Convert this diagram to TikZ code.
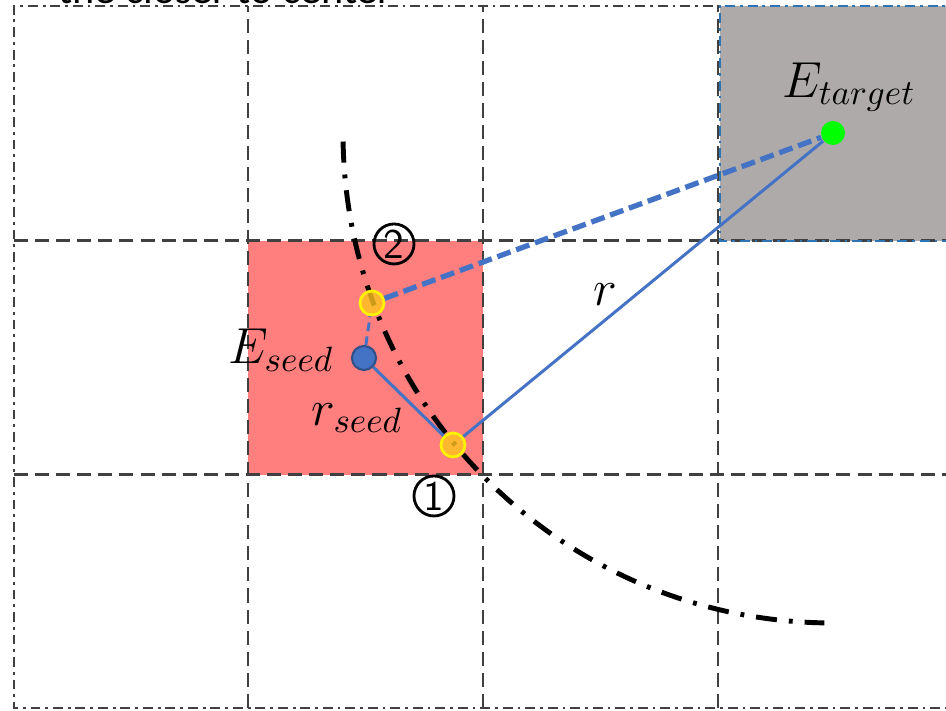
\documentclass[tikz,border=0pt]{standalone}
\usepackage{fontspec}
\newfontfamily\capfont{Carlito}
\usetikzlibrary{positioning}
\definecolor{rejilla}{RGB}{64,64,64}
\definecolor{semilla}{RGB}{255,127,127}
\definecolor{objetivo}{RGB}{174,170,170}
\definecolor{enlace}{RGB}{68,114,196}
\definecolor{borde}{RGB}{46,117,182}
\definecolor{punto}{RGB}{255,196,30}
\tikzset{
  cellline/.style={rejilla, line width=0.85pt, dash pattern=on 4pt off 2pt},
  outerline/.style={rejilla, line width=0.8pt, dash pattern=on 2.8pt off 1.4pt on 0.8pt off 1.4pt},
  targetedge/.style={borde, line width=0.8pt, dash pattern=on 2.8pt off 1.4pt on 0.8pt off 1.4pt},
  arcline/.style={black, line width=1.4pt, dash pattern=on 6pt off 3.4pt on 1.1pt off 3.4pt},
  seedpt/.style={circle, minimum size=0.24cm, inner sep=0pt, fill=enlace, draw=enlace!70!black, line width=0.6pt},
  crosspt/.style={circle, minimum size=0.24cm, inner sep=0pt, fill=punto, fill opacity=0.8, draw=yellow, line width=0.8pt},
  targetpt/.style={circle, minimum size=0.24cm, inner sep=0pt, fill=green},
  solidlink/.style={enlace, line width=0.85pt},
  thinlink/.style={enlace, line width=0.85pt, dash pattern=on 2.5pt off 1.5pt},
  thicklink/.style={enlace, line width=1.5pt, dash pattern=on 4pt off 1.7pt},
  lbl/.style={inner sep=0pt, font=\fontsize{14.5}{17}\selectfont},
  num/.style={circle, draw, line width=0.8pt, minimum size=0.4cm, inner sep=0pt,
              font=\fontsize{12}{14}\sffamily}
}
\begin{document}
\begin{tikzpicture}
  \useasboundingbox (0,0) rectangle (9.46,7.11);
  \clip (0,0) rectangle (9.46,7.11);
  % cells
  \fill[semilla] (2.48,2.36) rectangle (4.83,4.70);
  \fill[objetivo] (7.20,4.70) rectangle (9.60,7.05);
  \foreach \x in {2.48,4.83,7.18}
    \draw[cellline] (\x,0.03) -- (\x,7.05);
  \foreach \y in {2.36,4.70}
    \draw[cellline] (0.14,\y) -- (9.60,\y);
  \draw[outerline] (9.60,7.05) -- (0.14,7.05) -- (0.14,0.03) -- (9.60,0.03);
  \draw[targetedge] (9.60,7.05) -- (7.20,7.05) -- (7.20,4.70) -- (9.60,4.70);
  \node[anchor=base west, inner sep=0pt, font=\fontsize{12}{14}\capfont] (cap) at (0.58,7.07) {the closer to center};
  % radius around the target
  \coordinate (tc) at (8.33,5.78);
  \draw[arcline] (tc) ++(181:4.9) arc (181:269:4.9);
  % points
  \node[targetpt] (target) at (tc) {};
  \node[seedpt] (seed) at (3.64,3.53) {};
  \node[crosspt] (p1) at (4.53,2.66) {};
  \node[crosspt] (p2) at (3.72,4.08) {};
  \draw[solidlink] (seed) -- (p1);
  \draw[solidlink] (p1) -- (target);
  \draw[thinlink] (seed) -- (p2);
  \draw[thicklink] (p2) -- (target);
  % labels
  \node[lbl] (tlab) at (8.49,6.24) {$E_{target}$};
  \node[lbl] (slab) at (2.81,3.61) {$E_{seed}$};
  \node[lbl] (rlab) at (6.05,4.16) {$r$};
  \node[lbl] (rslab) at (3.57,2.93) {$r_{seed}$};
  \node[num] (n2) at (3.94,4.67) {2};
  \node[num] (n1) at (4.34,2.15) {1};
\end{tikzpicture}
\end{document}
